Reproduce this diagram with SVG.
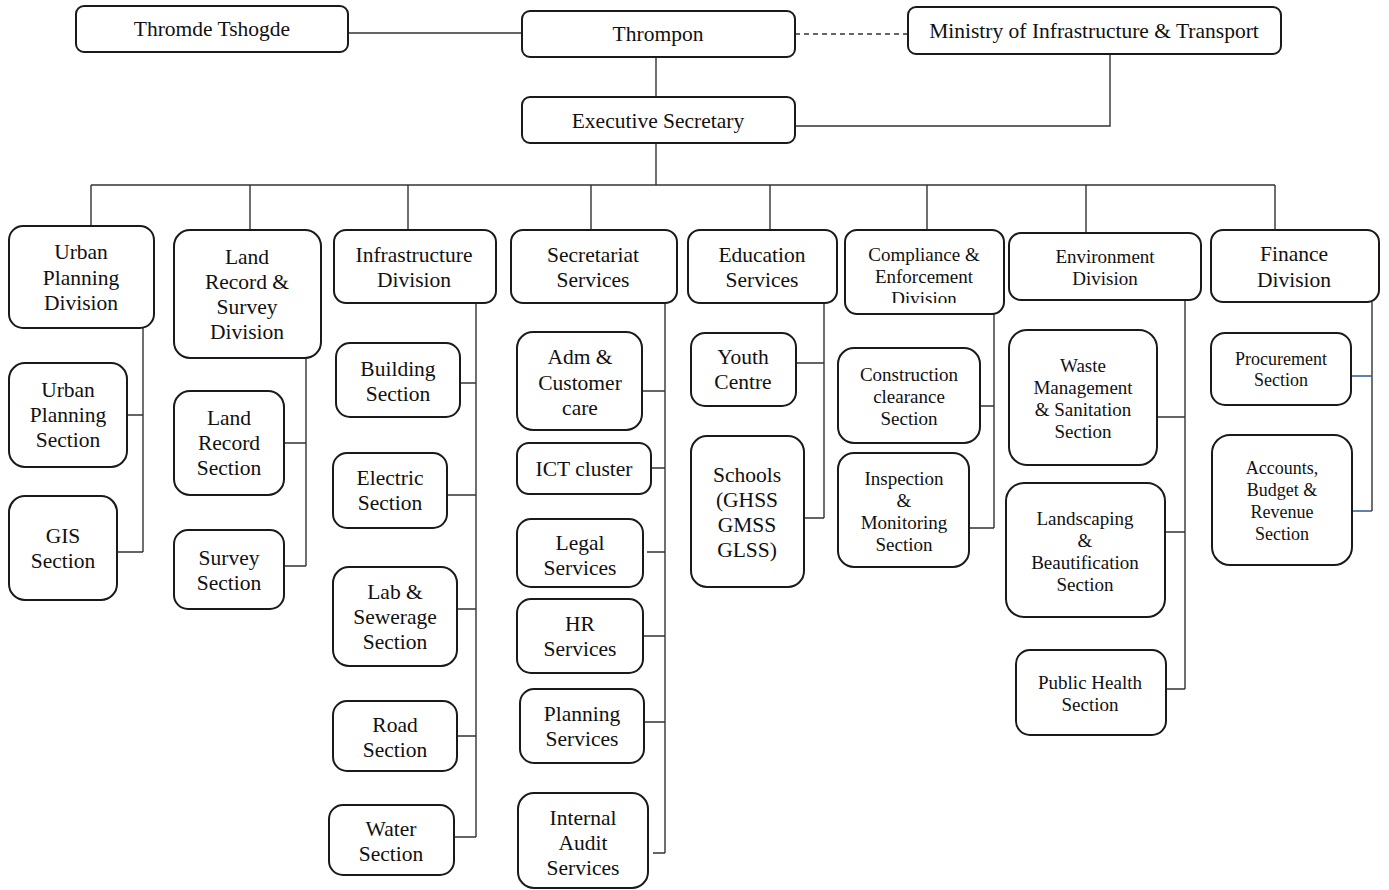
<svg xmlns="http://www.w3.org/2000/svg" width="1389" height="890" viewBox="0 0 1389 890">
<style>
.bg{fill:#fff}
.box{fill:#fff;stroke:#1a1a1a;stroke-width:2}
.t{font-family:"Liberation Serif","Times New Roman",serif;font-size:21.5px;text-anchor:middle;fill:#111}
.s{font-size:19px}
.xs{font-size:18px}
.c{stroke:#333;stroke-width:1.4;fill:none}
.d{stroke-dasharray:5 4}
.b{stroke:#2f5597}
</style>
<defs>
<clipPath id="clipComp"><rect x="840" y="225" width="170" height="78"/></clipPath>
</defs>
<rect class="bg" x="0" y="0" width="1389" height="890"/>
<g id="connectors">
<path class="c" d="M348,33 H522"/>
<path class="c d" d="M795,34 H908"/>
<path class="c" d="M656,57 V97"/>
<path class="c" d="M1110,54 V126 H795"/>
<path class="c" d="M656,143 V185"/>
<path class="c" d="M91,185 H1275"/>
<path class="c" d="M91,185 V226 M250,185 V230 M408,185 V230 M591,185 V230 M770,185 V230 M927,185 V230 M1086,185 V233 M1275,185 V230"/>
<path class="c" d="M143,328 V552 M127,415 H143 M117,552 H143"/>
<path class="c" d="M306,358 V566 M284,443 H306 M284,566 H306"/>
<path class="c" d="M476,303 V837 M460,383 H476 M447,495 H476 M457,609 H476 M457,736 H476 M454,837 H476"/>
<path class="c" d="M665,303 V853 M642,391 H665 M651,468 H665 M647,552 H665 M643,636 H665 M644,722 H665 M653,853 H665"/>
<path class="c" d="M824,303 V518 M796,363 H824 M804,518 H824"/>
<path class="c" d="M994,314 V528 M980,406 H994 M969,528 H994"/>
<path class="c" d="M1185,300 V689 M1157,417 H1185 M1165,532 H1185 M1166,689 H1185"/>
<path class="c" d="M1372,302 V511"/>
<path class="c b" d="M1351,376 H1372 M1352,511 H1372"/>
</g>
<g id="thromde-tshogde"><rect class="box" x="76" y="6" width="272" height="46" rx="8"/><text class="t" x="212" y="36">Thromde Tshogde</text></g>
<g id="thrompon"><rect class="box" x="522" y="11" width="273" height="46" rx="8"/><text class="t" x="658" y="41">Thrompon</text></g>
<g id="ministry"><rect class="box" x="908" y="7" width="373" height="47" rx="8"/><text class="t" x="1094" y="38">Ministry of Infrastructure &amp; Transport</text></g>
<g id="executive-secretary"><rect class="box" x="522" y="97" width="273" height="46" rx="8"/><text class="t" x="658" y="128">Executive Secretary</text></g>

<g id="urban-planning-division"><rect class="box" x="9" y="226" width="145" height="102" rx="14"/><text class="t"><tspan x="81" y="259">Urban</tspan><tspan x="81" y="285">Planning</tspan><tspan x="81" y="310">Division</tspan></text></g>
<g id="land-record-survey-division"><rect class="box" x="174" y="230" width="147" height="128" rx="16"/><text class="t"><tspan x="247" y="264">Land</tspan><tspan x="247" y="289">Record &amp;</tspan><tspan x="247" y="314">Survey</tspan><tspan x="247" y="339">Division</tspan></text></g>
<g id="infrastructure-division"><rect class="box" x="334" y="230" width="162" height="73" rx="12"/><text class="t"><tspan x="414" y="262">Infrastructure</tspan><tspan x="414" y="287">Division</tspan></text></g>
<g id="secretariat-services"><rect class="box" x="511" y="230" width="166" height="73" rx="12"/><text class="t"><tspan x="593" y="262">Secretariat</tspan><tspan x="593" y="287">Services</tspan></text></g>
<g id="education-services"><rect class="box" x="688" y="230" width="149" height="73" rx="12"/><text class="t"><tspan x="762" y="262">Education</tspan><tspan x="762" y="287">Services</tspan></text></g>
<g id="compliance-enforcement-division"><rect class="box" x="845" y="230" width="159" height="84" rx="12"/><text class="t s" clip-path="url(#clipComp)"><tspan x="924" y="260.5">Compliance &amp;</tspan><tspan x="924" y="282.5">Enforcement</tspan><tspan x="924" y="305">Division</tspan></text></g>
<g id="environment-division"><rect class="box" x="1009" y="233" width="192" height="67" rx="12"/><text class="t s"><tspan x="1105" y="262.5">Environment</tspan><tspan x="1105" y="284.5">Division</tspan></text></g>
<g id="finance-division"><rect class="box" x="1211" y="230" width="168" height="72" rx="12"/><text class="t"><tspan x="1294" y="261">Finance</tspan><tspan x="1294" y="287">Division</tspan></text></g>

<g id="urban-planning-section"><rect class="box" x="9" y="363" width="118" height="104" rx="16"/><text class="t"><tspan x="68" y="397">Urban</tspan><tspan x="68" y="422">Planning</tspan><tspan x="68" y="447">Section</tspan></text></g>
<g id="gis-section"><rect class="box" x="9" y="496" width="108" height="104" rx="16"/><text class="t"><tspan x="63" y="543">GIS</tspan><tspan x="63" y="568">Section</tspan></text></g>
<g id="land-record-section"><rect class="box" x="174" y="391" width="110" height="104" rx="16"/><text class="t"><tspan x="229" y="425">Land</tspan><tspan x="229" y="450">Record</tspan><tspan x="229" y="475">Section</tspan></text></g>
<g id="survey-section"><rect class="box" x="174" y="530" width="110" height="79" rx="14"/><text class="t"><tspan x="229" y="565">Survey</tspan><tspan x="229" y="590">Section</tspan></text></g>

<g id="building-section"><rect class="box" x="336" y="343" width="124" height="74" rx="14"/><text class="t"><tspan x="398" y="376">Building</tspan><tspan x="398" y="401">Section</tspan></text></g>
<g id="electric-section"><rect class="box" x="333" y="453" width="114" height="75" rx="14"/><text class="t"><tspan x="390" y="485">Electric</tspan><tspan x="390" y="510">Section</tspan></text></g>
<g id="lab-sewerage-section"><rect class="box" x="333" y="567" width="124" height="99" rx="16"/><text class="t"><tspan x="395" y="599">Lab &amp;</tspan><tspan x="395" y="624">Sewerage</tspan><tspan x="395" y="649">Section</tspan></text></g>
<g id="road-section"><rect class="box" x="333" y="701" width="124" height="70" rx="14"/><text class="t"><tspan x="395" y="732">Road</tspan><tspan x="395" y="757">Section</tspan></text></g>
<g id="water-section"><rect class="box" x="329" y="805" width="125" height="70" rx="14"/><text class="t"><tspan x="391" y="836">Water</tspan><tspan x="391" y="861">Section</tspan></text></g>

<g id="adm-customer-care"><rect class="box" x="517" y="332" width="125" height="98" rx="16"/><text class="t"><tspan x="580" y="364">Adm &amp;</tspan><tspan x="580" y="390">Customer</tspan><tspan x="580" y="415">care</tspan></text></g>
<g id="ict-cluster"><rect class="box" x="517" y="443" width="134" height="51" rx="12"/><text class="t" x="584" y="476">ICT cluster</text></g>
<g id="legal-services"><rect class="box" x="517" y="519" width="126" height="68" rx="14"/><text class="t"><tspan x="580" y="550">Legal</tspan><tspan x="580" y="575">Services</tspan></text></g>
<g id="hr-services"><rect class="box" x="517" y="599" width="126" height="74" rx="14"/><text class="t"><tspan x="580" y="631">HR</tspan><tspan x="580" y="656">Services</tspan></text></g>
<g id="planning-services"><rect class="box" x="520" y="689" width="124" height="74" rx="14"/><text class="t"><tspan x="582" y="721">Planning</tspan><tspan x="582" y="746">Services</tspan></text></g>
<g id="internal-audit-services"><rect class="box" x="518" y="793" width="130" height="95" rx="16"/><text class="t"><tspan x="583" y="825">Internal</tspan><tspan x="583" y="850">Audit</tspan><tspan x="583" y="875">Services</tspan></text></g>

<g id="youth-centre"><rect class="box" x="691" y="333" width="105" height="73" rx="14"/><text class="t"><tspan x="743" y="364">Youth</tspan><tspan x="743" y="389">Centre</tspan></text></g>
<g id="schools"><rect class="box" x="691" y="436" width="113" height="151" rx="16"/><text class="t"><tspan x="747" y="482">Schools</tspan><tspan x="747" y="507">(GHSS</tspan><tspan x="747" y="532">GMSS</tspan><tspan x="747" y="557">GLSS)</tspan></text></g>

<g id="construction-clearance-section"><rect class="box" x="838" y="348" width="142" height="95" rx="16"/><text class="t s"><tspan x="909" y="380.5">Construction</tspan><tspan x="909" y="402.5">clearance</tspan><tspan x="909" y="424.5">Section</tspan></text></g>
<g id="inspection-monitoring-section"><rect class="box" x="838" y="453" width="131" height="114" rx="16"/><text class="t s"><tspan x="904" y="484.5">Inspection</tspan><tspan x="904" y="506.5">&amp;</tspan><tspan x="904" y="528.5">Monitoring</tspan><tspan x="904" y="550.5">Section</tspan></text></g>

<g id="waste-management-sanitation-section"><rect class="box" x="1009" y="330" width="148" height="135" rx="18"/><text class="t s"><tspan x="1083" y="371.5">Waste</tspan><tspan x="1083" y="393.5">Management</tspan><tspan x="1083" y="415.5">&amp; Sanitation</tspan><tspan x="1083" y="437.5">Section</tspan></text></g>
<g id="landscaping-beautification-section"><rect class="box" x="1006" y="483" width="159" height="134" rx="18"/><text class="t s"><tspan x="1085" y="524.5">Landscaping</tspan><tspan x="1085" y="546.5">&amp;</tspan><tspan x="1085" y="568.5">Beautification</tspan><tspan x="1085" y="590.5">Section</tspan></text></g>
<g id="public-health-section"><rect class="box" x="1016" y="650" width="150" height="85" rx="14"/><text class="t s"><tspan x="1090" y="688.5">Public Health</tspan><tspan x="1090" y="710.5">Section</tspan></text></g>

<g id="procurement-section"><rect class="box" x="1211" y="333" width="140" height="72" rx="14"/><text class="t xs"><tspan x="1281" y="365">Procurement</tspan><tspan x="1281" y="386">Section</tspan></text></g>
<g id="accounts-budget-revenue-section"><rect class="box" x="1212" y="435" width="140" height="130" rx="18"/><text class="t xs"><tspan x="1282" y="474">Accounts,</tspan><tspan x="1282" y="496">Budget &amp;</tspan><tspan x="1282" y="518">Revenue</tspan><tspan x="1282" y="540">Section</tspan></text></g>
</svg>
